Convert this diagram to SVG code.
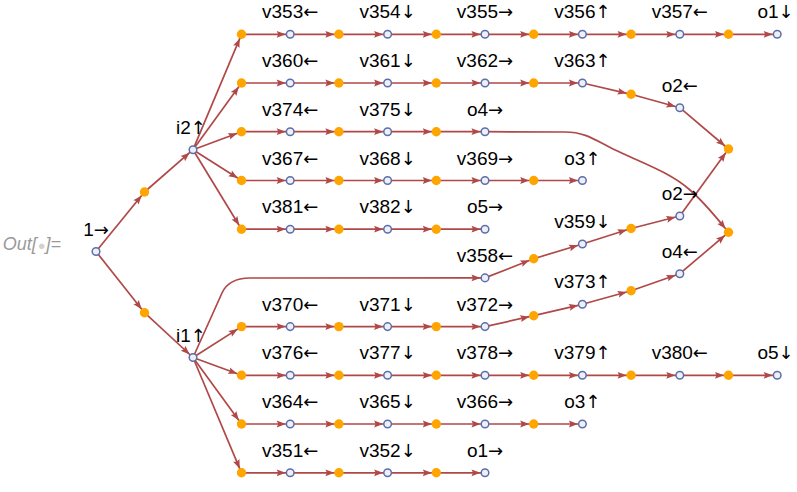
<svg xmlns="http://www.w3.org/2000/svg" width="797" height="492" viewBox="0 0 797 492">
<style>
.e{fill:none;stroke:#b04848;stroke-width:1.7;marker-end:url(#ah)}
.b{fill:#eef0f8;stroke:#5d6ea8;stroke-width:1.5}
.o{fill:#ffa500}
.t{font-family:"Liberation Sans",Arial,sans-serif;font-size:19px;text-anchor:middle;fill:#000}
.a{font-family:"DejaVu Sans",sans-serif;font-size:18px}
.out{font-family:"Liberation Sans",Arial,sans-serif;font-size:18px;font-style:italic;fill:#9a9a9a}
</style>
<defs>
<marker id="ah" markerUnits="userSpaceOnUse" markerWidth="16" markerHeight="10" viewBox="-12 -5 16 10" refX="4.5" refY="0" orient="auto" overflow="visible">
<path d="M-9,-3.4 L0,0 L-9,3.4 L-7.5,0 Z" fill="#b04848"/>
</marker>
</defs>
<text class="out" x="2.7" y="250">Out[<tspan font-size="13" font-style="normal" fill="#d2d2d2" dx="1">●</tspan>]=</text>
<g id="edges">
<path class="e" d="M96 251.5L144.5 192"/>
<path class="e" d="M144.5 192L193 149.7"/>
<path class="e" d="M96 251.5L144.5 312.7"/>
<path class="e" d="M144.5 312.7L193 357.5"/>
<path class="e" d="M193 149.7L241.5 34.3"/>
<path class="e" d="M193 149.7L241.5 83"/>
<path class="e" d="M193 149.7L241.5 131.7"/>
<path class="e" d="M193 149.7L241.5 180.5"/>
<path class="e" d="M193 149.7L241.5 229.2"/>
<path class="e" d="M193 357.5L222 293Q228.7 278 250 278L485 277.9"/>
<path class="e" d="M193 357.5L241.5 326.6"/>
<path class="e" d="M193 357.5L241.5 375.3"/>
<path class="e" d="M193 357.5L241.5 424"/>
<path class="e" d="M193 357.5L241.5 472.8"/>
<path class="e" d="M241.5 34.3H290.2"/>
<path class="e" d="M290.2 34.3H338.9"/>
<path class="e" d="M338.9 34.3H387.6"/>
<path class="e" d="M387.6 34.3H436.3"/>
<path class="e" d="M436.3 34.3H485"/>
<path class="e" d="M485 34.3H533.7"/>
<path class="e" d="M533.7 34.3H582.4"/>
<path class="e" d="M582.4 34.3H631.1"/>
<path class="e" d="M631.1 34.3H679.8"/>
<path class="e" d="M679.8 34.3H728.5"/>
<path class="e" d="M728.5 34.3H777.2"/>
<path class="e" d="M241.5 83H290.2"/>
<path class="e" d="M290.2 83H338.9"/>
<path class="e" d="M338.9 83H387.6"/>
<path class="e" d="M387.6 83H436.3"/>
<path class="e" d="M436.3 83H485"/>
<path class="e" d="M485 83H533.7"/>
<path class="e" d="M533.7 83H582.4"/>
<path class="e" d="M582.4 83L631.1 94.3"/>
<path class="e" d="M631.1 94.3L679.8 107.7"/>
<path class="e" d="M679.8 107.7L728.5 149"/>
<path class="e" d="M241.5 131.7H290.2"/>
<path class="e" d="M290.2 131.7H338.9"/>
<path class="e" d="M338.9 131.7H387.6"/>
<path class="e" d="M387.6 131.7H436.3"/>
<path class="e" d="M436.3 131.7H485"/>
<path class="e" d="M485 131.7L565 132C585 132 595 140 613 149C640 162 670 172 690 190C705 203 715 216 728.5 232.3"/>
<path class="e" d="M241.5 180.5H290.2"/>
<path class="e" d="M290.2 180.5H338.9"/>
<path class="e" d="M338.9 180.5H387.6"/>
<path class="e" d="M387.6 180.5H436.3"/>
<path class="e" d="M436.3 180.5H485"/>
<path class="e" d="M485 180.5H533.7"/>
<path class="e" d="M533.7 180.5H582.4"/>
<path class="e" d="M241.5 229.2H290.2"/>
<path class="e" d="M290.2 229.2H338.9"/>
<path class="e" d="M338.9 229.2H387.6"/>
<path class="e" d="M387.6 229.2H436.3"/>
<path class="e" d="M436.3 229.2H485"/>
<path class="e" d="M485 277.9L533.7 258.7"/>
<path class="e" d="M533.7 258.7L582.4 244"/>
<path class="e" d="M582.4 244L631.1 228.5"/>
<path class="e" d="M631.1 228.5L679.8 216"/>
<path class="e" d="M679.8 216L728.5 149"/>
<path class="e" d="M241.5 326.6H290.2"/>
<path class="e" d="M290.2 326.6H338.9"/>
<path class="e" d="M338.9 326.6H387.6"/>
<path class="e" d="M387.6 326.6H436.3"/>
<path class="e" d="M436.3 326.6H485"/>
<path class="e" d="M485 326.6L533.7 315.7"/>
<path class="e" d="M533.7 315.7L582.4 304.3"/>
<path class="e" d="M582.4 304.3L631.1 290.7"/>
<path class="e" d="M631.1 290.7L679.8 273.7"/>
<path class="e" d="M679.8 273.7L728.5 232.3"/>
<path class="e" d="M241.5 375.3H290.2"/>
<path class="e" d="M290.2 375.3H338.9"/>
<path class="e" d="M338.9 375.3H387.6"/>
<path class="e" d="M387.6 375.3H436.3"/>
<path class="e" d="M436.3 375.3H485"/>
<path class="e" d="M485 375.3H533.7"/>
<path class="e" d="M533.7 375.3H582.4"/>
<path class="e" d="M582.4 375.3H631.1"/>
<path class="e" d="M631.1 375.3H679.8"/>
<path class="e" d="M679.8 375.3H728.5"/>
<path class="e" d="M728.5 375.3H777.2"/>
<path class="e" d="M241.5 424H290.2"/>
<path class="e" d="M290.2 424H338.9"/>
<path class="e" d="M338.9 424H387.6"/>
<path class="e" d="M387.6 424H436.3"/>
<path class="e" d="M436.3 424H485"/>
<path class="e" d="M485 424H533.7"/>
<path class="e" d="M533.7 424H582.4"/>
<path class="e" d="M241.5 472.8H290.2"/>
<path class="e" d="M290.2 472.8H338.9"/>
<path class="e" d="M338.9 472.8H387.6"/>
<path class="e" d="M387.6 472.8H436.3"/>
<path class="e" d="M436.3 472.8H485"/>
</g>
<g id="n1"><circle class="b" cx="96" cy="251.5" r="3.8"/><text class="t" x="96" y="235.5">1<tspan class="a">→</tspan></text></g>
<g id="p1"><circle class="o" cx="144.5" cy="192" r="4.7"/></g>
<g id="p2"><circle class="o" cx="144.5" cy="312.7" r="4.7"/></g>
<g id="i2"><circle class="b" cx="193" cy="149.7" r="3.8"/><text class="t" x="191" y="133.7">i2<tspan class="a">↑</tspan></text></g>
<g id="i1"><circle class="b" cx="193" cy="357.5" r="3.8"/><text class="t" x="191" y="341.5">i1<tspan class="a">↑</tspan></text></g>
<g id="p3"><circle class="o" cx="241.5" cy="34.3" r="4.7"/></g>
<g id="v353"><circle class="b" cx="290.2" cy="34.3" r="3.8"/><text class="t" x="290.2" y="18.3">v353<tspan class="a">←</tspan></text></g>
<g id="p4"><circle class="o" cx="338.9" cy="34.3" r="4.7"/></g>
<g id="v354"><circle class="b" cx="387.6" cy="34.3" r="3.8"/><text class="t" x="387.6" y="18.3">v354<tspan class="a">↓</tspan></text></g>
<g id="p5"><circle class="o" cx="436.3" cy="34.3" r="4.7"/></g>
<g id="v355"><circle class="b" cx="485" cy="34.3" r="3.8"/><text class="t" x="485" y="18.3">v355<tspan class="a">→</tspan></text></g>
<g id="p6"><circle class="o" cx="533.7" cy="34.3" r="4.7"/></g>
<g id="v356"><circle class="b" cx="582.4" cy="34.3" r="3.8"/><text class="t" x="582.4" y="18.3">v356<tspan class="a">↑</tspan></text></g>
<g id="p7"><circle class="o" cx="631.1" cy="34.3" r="4.7"/></g>
<g id="v357"><circle class="b" cx="679.8" cy="34.3" r="3.8"/><text class="t" x="679.8" y="18.3">v357<tspan class="a">←</tspan></text></g>
<g id="p8"><circle class="o" cx="728.5" cy="34.3" r="4.7"/></g>
<g id="o1a"><circle class="b" cx="777.2" cy="34.3" r="3.8"/><text class="t" x="775.5" y="18.3">o1<tspan class="a">↓</tspan></text></g>
<g id="p9"><circle class="o" cx="241.5" cy="83" r="4.7"/></g>
<g id="v360"><circle class="b" cx="290.2" cy="83" r="3.8"/><text class="t" x="290.2" y="67">v360<tspan class="a">←</tspan></text></g>
<g id="p10"><circle class="o" cx="338.9" cy="83" r="4.7"/></g>
<g id="v361"><circle class="b" cx="387.6" cy="83" r="3.8"/><text class="t" x="387.6" y="67">v361<tspan class="a">↓</tspan></text></g>
<g id="p11"><circle class="o" cx="436.3" cy="83" r="4.7"/></g>
<g id="v362"><circle class="b" cx="485" cy="83" r="3.8"/><text class="t" x="485" y="67">v362<tspan class="a">→</tspan></text></g>
<g id="p12"><circle class="o" cx="533.7" cy="83" r="4.7"/></g>
<g id="v363"><circle class="b" cx="582.4" cy="83" r="3.8"/><text class="t" x="582.4" y="67">v363<tspan class="a">↑</tspan></text></g>
<g id="p13"><circle class="o" cx="631.1" cy="94.3" r="4.7"/></g>
<g id="o2a"><circle class="b" cx="679.8" cy="107.7" r="3.8"/><text class="t" x="679.8" y="91.7">o2<tspan class="a">←</tspan></text></g>
<g id="p14"><circle class="o" cx="728.5" cy="149" r="4.7"/></g>
<g id="p15"><circle class="o" cx="241.5" cy="131.7" r="4.7"/></g>
<g id="v374"><circle class="b" cx="290.2" cy="131.7" r="3.8"/><text class="t" x="290.2" y="115.7">v374<tspan class="a">←</tspan></text></g>
<g id="p16"><circle class="o" cx="338.9" cy="131.7" r="4.7"/></g>
<g id="v375"><circle class="b" cx="387.6" cy="131.7" r="3.8"/><text class="t" x="387.6" y="115.7">v375<tspan class="a">↓</tspan></text></g>
<g id="p17"><circle class="o" cx="436.3" cy="131.7" r="4.7"/></g>
<g id="o4a"><circle class="b" cx="485" cy="131.7" r="3.8"/><text class="t" x="485" y="115.7">o4<tspan class="a">→</tspan></text></g>
<g id="p18"><circle class="o" cx="728.5" cy="232.3" r="4.7"/></g>
<g id="p19"><circle class="o" cx="241.5" cy="180.5" r="4.7"/></g>
<g id="v367"><circle class="b" cx="290.2" cy="180.5" r="3.8"/><text class="t" x="290.2" y="164.5">v367<tspan class="a">←</tspan></text></g>
<g id="p20"><circle class="o" cx="338.9" cy="180.5" r="4.7"/></g>
<g id="v368"><circle class="b" cx="387.6" cy="180.5" r="3.8"/><text class="t" x="387.6" y="164.5">v368<tspan class="a">↓</tspan></text></g>
<g id="p21"><circle class="o" cx="436.3" cy="180.5" r="4.7"/></g>
<g id="v369"><circle class="b" cx="485" cy="180.5" r="3.8"/><text class="t" x="485" y="164.5">v369<tspan class="a">→</tspan></text></g>
<g id="p22"><circle class="o" cx="533.7" cy="180.5" r="4.7"/></g>
<g id="o3a"><circle class="b" cx="582.4" cy="180.5" r="3.8"/><text class="t" x="582.4" y="164.5">o3<tspan class="a">↑</tspan></text></g>
<g id="p23"><circle class="o" cx="241.5" cy="229.2" r="4.7"/></g>
<g id="v381"><circle class="b" cx="290.2" cy="229.2" r="3.8"/><text class="t" x="290.2" y="213.2">v381<tspan class="a">←</tspan></text></g>
<g id="p24"><circle class="o" cx="338.9" cy="229.2" r="4.7"/></g>
<g id="v382"><circle class="b" cx="387.6" cy="229.2" r="3.8"/><text class="t" x="387.6" y="213.2">v382<tspan class="a">↓</tspan></text></g>
<g id="p25"><circle class="o" cx="436.3" cy="229.2" r="4.7"/></g>
<g id="o5a"><circle class="b" cx="485" cy="229.2" r="3.8"/><text class="t" x="485" y="213.2">o5<tspan class="a">→</tspan></text></g>
<g id="v358"><circle class="b" cx="485" cy="277.9" r="3.8"/><text class="t" x="485" y="261.9">v358<tspan class="a">←</tspan></text></g>
<g id="p26"><circle class="o" cx="533.7" cy="258.7" r="4.7"/></g>
<g id="v359"><circle class="b" cx="582.4" cy="244" r="3.8"/><text class="t" x="582.4" y="228">v359<tspan class="a">↓</tspan></text></g>
<g id="p27"><circle class="o" cx="631.1" cy="228.5" r="4.7"/></g>
<g id="o2b"><circle class="b" cx="679.8" cy="216" r="3.8"/><text class="t" x="679.8" y="200">o2<tspan class="a">→</tspan></text></g>
<g id="p28"><circle class="o" cx="241.5" cy="326.6" r="4.7"/></g>
<g id="v370"><circle class="b" cx="290.2" cy="326.6" r="3.8"/><text class="t" x="290.2" y="310.6">v370<tspan class="a">←</tspan></text></g>
<g id="p29"><circle class="o" cx="338.9" cy="326.6" r="4.7"/></g>
<g id="v371"><circle class="b" cx="387.6" cy="326.6" r="3.8"/><text class="t" x="387.6" y="310.6">v371<tspan class="a">↓</tspan></text></g>
<g id="p30"><circle class="o" cx="436.3" cy="326.6" r="4.7"/></g>
<g id="v372"><circle class="b" cx="485" cy="326.6" r="3.8"/><text class="t" x="485" y="310.6">v372<tspan class="a">→</tspan></text></g>
<g id="p31"><circle class="o" cx="533.7" cy="315.7" r="4.7"/></g>
<g id="v373"><circle class="b" cx="582.4" cy="304.3" r="3.8"/><text class="t" x="582.4" y="288.3">v373<tspan class="a">↑</tspan></text></g>
<g id="p32"><circle class="o" cx="631.1" cy="290.7" r="4.7"/></g>
<g id="o4b"><circle class="b" cx="679.8" cy="273.7" r="3.8"/><text class="t" x="679.8" y="257.7">o4<tspan class="a">←</tspan></text></g>
<g id="p33"><circle class="o" cx="241.5" cy="375.3" r="4.7"/></g>
<g id="v376"><circle class="b" cx="290.2" cy="375.3" r="3.8"/><text class="t" x="290.2" y="359.3">v376<tspan class="a">←</tspan></text></g>
<g id="p34"><circle class="o" cx="338.9" cy="375.3" r="4.7"/></g>
<g id="v377"><circle class="b" cx="387.6" cy="375.3" r="3.8"/><text class="t" x="387.6" y="359.3">v377<tspan class="a">↓</tspan></text></g>
<g id="p35"><circle class="o" cx="436.3" cy="375.3" r="4.7"/></g>
<g id="v378"><circle class="b" cx="485" cy="375.3" r="3.8"/><text class="t" x="485" y="359.3">v378<tspan class="a">→</tspan></text></g>
<g id="p36"><circle class="o" cx="533.7" cy="375.3" r="4.7"/></g>
<g id="v379"><circle class="b" cx="582.4" cy="375.3" r="3.8"/><text class="t" x="582.4" y="359.3">v379<tspan class="a">↑</tspan></text></g>
<g id="p37"><circle class="o" cx="631.1" cy="375.3" r="4.7"/></g>
<g id="v380"><circle class="b" cx="679.8" cy="375.3" r="3.8"/><text class="t" x="679.8" y="359.3">v380<tspan class="a">←</tspan></text></g>
<g id="p38"><circle class="o" cx="728.5" cy="375.3" r="4.7"/></g>
<g id="o5b"><circle class="b" cx="777.2" cy="375.3" r="3.8"/><text class="t" x="775.5" y="359.3">o5<tspan class="a">↓</tspan></text></g>
<g id="p39"><circle class="o" cx="241.5" cy="424" r="4.7"/></g>
<g id="v364"><circle class="b" cx="290.2" cy="424" r="3.8"/><text class="t" x="290.2" y="408">v364<tspan class="a">←</tspan></text></g>
<g id="p40"><circle class="o" cx="338.9" cy="424" r="4.7"/></g>
<g id="v365"><circle class="b" cx="387.6" cy="424" r="3.8"/><text class="t" x="387.6" y="408">v365<tspan class="a">↓</tspan></text></g>
<g id="p41"><circle class="o" cx="436.3" cy="424" r="4.7"/></g>
<g id="v366"><circle class="b" cx="485" cy="424" r="3.8"/><text class="t" x="485" y="408">v366<tspan class="a">→</tspan></text></g>
<g id="p42"><circle class="o" cx="533.7" cy="424" r="4.7"/></g>
<g id="o3b"><circle class="b" cx="582.4" cy="424" r="3.8"/><text class="t" x="582.4" y="408">o3<tspan class="a">↑</tspan></text></g>
<g id="p43"><circle class="o" cx="241.5" cy="472.8" r="4.7"/></g>
<g id="v351"><circle class="b" cx="290.2" cy="472.8" r="3.8"/><text class="t" x="290.2" y="456.8">v351<tspan class="a">←</tspan></text></g>
<g id="p44"><circle class="o" cx="338.9" cy="472.8" r="4.7"/></g>
<g id="v352"><circle class="b" cx="387.6" cy="472.8" r="3.8"/><text class="t" x="387.6" y="456.8">v352<tspan class="a">↓</tspan></text></g>
<g id="p45"><circle class="o" cx="436.3" cy="472.8" r="4.7"/></g>
<g id="o1b"><circle class="b" cx="485" cy="472.8" r="3.8"/><text class="t" x="485" y="456.8">o1<tspan class="a">→</tspan></text></g>
</svg>
